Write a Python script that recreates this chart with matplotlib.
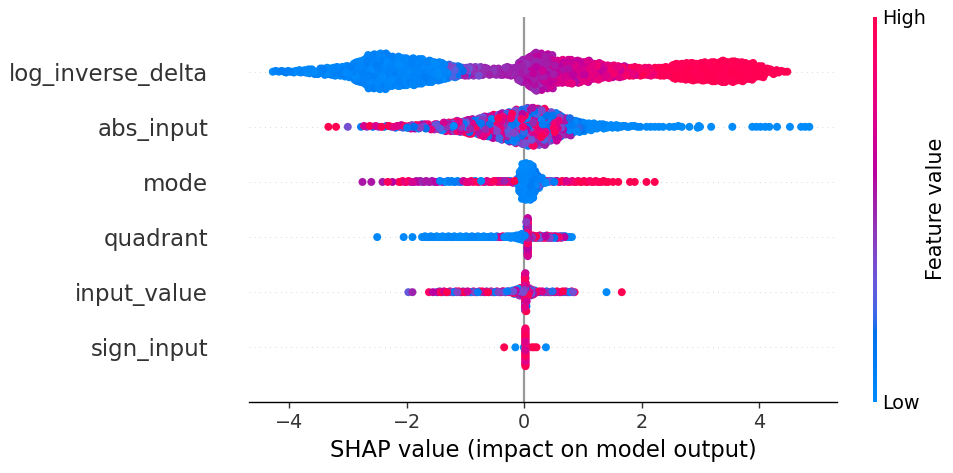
import numpy as np
import matplotlib
matplotlib.use('Agg')
import matplotlib.pyplot as plt
from matplotlib.colors import LinearSegmentedColormap
from matplotlib.cm import ScalarMappable

# rows from bottom to top
feature_names = ['sign_input', 'input_value', 'quadrant', 'mode', 'abs_input', 'log_inverse_delta']

# each feature: histogram of SHAP values (bin edges + counts), mean feature value
# per bin (0 = low, 1 = high) and its spread, plus isolated points

# log_inverse_delta
lid_edges = np.arange(-4.3, 4.51, 0.2)
lid_counts = [4, 6, 9, 15, 21, 27, 33, 63, 99, 105, 87, 81, 75, 63, 51, 33, 27, 27, 21, 21, 27, 69,
              111, 99, 69, 69, 63, 51, 39, 33, 27, 24, 24, 27, 45, 51, 54, 57, 63, 60, 51, 33, 15, 4]
lid_level = [0.04] * 15 + [0.2, 0.35, 0.45, 0.48, 0.5, 0.5, 0.52, 0.55, 0.6, 0.65, 0.68, 0.7, 0.72,
                           0.75, 0.78, 0.8, 0.85, 0.9, 0.95] + [0.98] * 10
lid_spread = [0.05] * 15 + [0.2, 0.2, 0.1, 0.05, 0.05, 0.05, 0.06, 0.08, 0.1, 0.12, 0.12, 0.12, 0.12,
                            0.12, 0.15, 0.2, 0.15, 0.1, 0.05] + [0.02] * 10
lid_out_x = []
lid_out_v = []

# abs_input
abs_edges = np.arange(-2.8, 2.01, 0.2)
abs_counts = [4, 4, 5, 8, 12, 15, 18, 27, 33, 42, 57, 69, 81, 99, 111, 105, 81, 51, 33, 21, 15, 9, 6, 4]
abs_level = [0.55] * 7 + [0.5] * 10 + [0.3, 0.12] + [0.02] * 5
abs_spread = [0.45] * 7 + [0.5] * 10 + [0.3, 0.12] + [0.02] * 5
abs_out_x = [-3.33, -3.2, -3.0, 2.08, 2.15, 2.22, 2.29, 2.36, 2.47, 2.55, 2.62, 2.68, 2.81, 2.95,
             2.97, 2.99, 3.18, 3.54, 3.88, 3.95, 4.02, 4.1, 4.17, 4.3, 4.52, 4.71, 4.78, 4.85]
abs_out_v = [1.0, 1.0, 0.35] + [0.0] * 25

# mode
mode_edges = np.r_[np.arange(-2.15, -0.149, 0.1), np.arange(-0.10, 0.401, 0.05), np.arange(0.5, 1.401, 0.1)]
mode_counts = [3] * 16 + [4] * 4 + [4, 22, 36, 38, 38, 34, 24, 14, 8, 4, 3] + [4, 4, 3, 3, 3, 3, 3, 3, 3, 3]
mode_level = [0.95, 0.9, 0.6, 0.55, 0.55, 0.55, 0.5, 0.3, 0.08, 0.05, 0.1, 0.8, 0.85, 0.5, 0.4, 0.85,
              0.9, 0.8, 0.75, 0.6] + [0.3, 0.05, 0.03, 0.03, 0.03, 0.05, 0.1, 0.15, 0.2, 0.3, 0.4] + \
             [0.4, 0.5, 0.7, 0.85, 0.9, 0.9, 0.95, 0.95, 0.95, 0.95]
mode_spread = [0.05, 0.1, 0.1, 0.05, 0.05, 0.05, 0.1, 0.25, 0.08, 0.05, 0.1, 0.15, 0.1, 0.45, 0.4, 0.15,
               0.1, 0.2, 0.25, 0.4] + [0.3, 0.05, 0.03, 0.03, 0.03, 0.05, 0.1, 0.15, 0.2, 0.3, 0.4] + \
              [0.4, 0.4, 0.3, 0.15, 0.1, 0.1, 0.05, 0.05, 0.05, 0.05]
mode_out_x = [-2.75, -2.6, -2.41, -2.32, -2.24, 1.43, 1.51, 1.6, 1.8, 1.88, 2.08, 2.22]
mode_out_v = [0.55, 0.55, 0.55, 0.95, 0.6, 1, 1, 1, 1, 1, 1, 1]

# quadrant
quad_edges = [-1.75, -1.65, -1.55, -1.45, -1.35, -1.25, -1.15, -1.05, -0.95, -0.85, -0.75, -0.65, -0.55,
              -0.45, -0.35, -0.25, -0.15, -0.05, 0.03, 0.058, 0.062, 0.15, 0.25, 0.35, 0.45, 0.55, 0.65,
              0.72, 0.83]
quad_counts = [4] * 13 + [4, 5, 7, 16, 22, 8, 41, 10, 10, 10, 10, 9, 8, 5, 3]
quad_level = [0.02] * 13 + [0.75, 0.03, 0.03, 0.03, 0.04, 0.3, 0.75, 0.6, 0.55, 0.55, 0.55, 0.5, 0.45, 0.3, 0.02]
quad_spread = [0.02] * 13 + [0.25, 0.03, 0.03, 0.03, 0.04, 0.3, 0.25, 0.4, 0.45, 0.45, 0.45, 0.45, 0.4, 0.3, 0.02]
quad_out_x = [-2.5, -2.05, -1.9]
quad_out_v = [0.02, 0.02, 0.02]

# input_value
inp_edges = [-1.5, -1.4, -1.3, -1.2, -1.1, -1.0, -0.9, -0.8, -0.7, -0.6, -0.5, -0.4, -0.3, -0.2,
             -0.1, -0.02, 0.012, 0.016, 0.1, 0.17, 0.27, 0.37, 0.47, 0.57, 0.67, 0.77, 0.87]
inp_counts = [4] * 11 + [5, 5] + [16, 22, 12, 38, 24, 15] + [4] * 7
inp_level = [0.55] * 13 + [0.5, 0.5, 0.4, 0.6, 0.55, 0.6] + [0.6] * 6 + [0.5]
inp_spread = [0.45] * 13 + [0.5, 0.5, 0.4, 0.4, 0.45, 0.4] + [0.4] * 6 + [0.45]
inp_out_x = [-1.97, -1.9, -1.62, -1.55, 1.4, 1.66]
inp_out_v = [0.3, 0.5, 0.9, 0.6, 0.0, 1.0]

# sign_input
sgn_edges = [0.0, 0.004, 0.02, 0.022, 0.04, 0.044]
sgn_counts = [3, 0, 41, 0, 2]
sgn_level = [0.02, 0, 0.85, 0, 0.95]
sgn_spread = [0.02, 0, 0.15, 0, 0.05]
sgn_out_x = [-0.34, -0.15, 0.13, 0.17, 0.21, 0.37]
sgn_out_v = [1, 0, 1, 1, 1, 0]

rows = [
    (sgn_edges, sgn_counts, sgn_level, sgn_spread, sgn_out_x, sgn_out_v),
    (inp_edges, inp_counts, inp_level, inp_spread, inp_out_x, inp_out_v),
    (quad_edges, quad_counts, quad_level, quad_spread, quad_out_x, quad_out_v),
    (mode_edges, mode_counts, mode_level, mode_spread, mode_out_x, mode_out_v),
    (abs_edges, abs_counts, abs_level, abs_spread, abs_out_x, abs_out_v),
    (lid_edges, lid_counts, lid_level, lid_spread, lid_out_x, lid_out_v),
]


def lch2rgb(l, c, h):
    a, b = c * np.cos(h), c * np.sin(h)
    fy = (l + 16) / 116
    f = np.array([fy + a / 500, fy, fy - b / 200])
    xyz = np.where(f > 0.2068966, f ** 3, (f - 16 / 116) / 7.787) * np.array([0.95047, 1.0, 1.08883])
    m = np.array([[3.24048134, -1.53715152, -0.49853633],
                  [-0.96925495, 1.87599, 0.04155593],
                  [0.05564664, -0.20404134, 1.05731107]])
    rgb = m @ xyz
    rgb = np.where(rgb > 0.0031308, 1.055 * np.clip(rgb, 0.0031308, None) ** (1 / 2.4) - 0.055, 12.92 * rgb)
    return np.clip(rgb, 0, 1)


# shap's red_blue colour map (LCH interpolation)
nsteps = 100
l_vals = list(np.linspace(54., 40., nsteps // 2)) + list(np.linspace(40., 54., nsteps // 2))
c_vals = np.linspace(70., 90., nsteps)
h_vals = np.linspace(4.6588, 0.35470565 + 2 * np.pi, nsteps)
red_blue = LinearSegmentedColormap.from_list(
    'red_blue', [lch2rgb(l, c, h) for l, c, h in zip(l_vals, c_vals, h_vals)])


def expand(edges, counts, level, spread, out_x, out_v):
    xs, vs = [], []
    for lo, hi, n, lv, sp in zip(edges[:-1], edges[1:], counts, level, spread):
        if n == 0:
            continue
        k = np.arange(n)
        xs.append(lo + (k + 0.5) * (hi - lo) / n)
        vals = np.linspace(lv - sp, lv + sp, n) if n > 1 else np.array([lv])
        vs.append(vals[np.argsort((k * 0.618034) % 1)])
    xs.append(np.asarray(out_x, float))
    vs.append(np.asarray(out_v, float))
    return np.concatenate(xs), np.clip(np.concatenate(vs), 0, 1)


def swarm(shaps, row_height=0.4, nbins=100):
    quant = np.round(nbins * (shaps - shaps.min()) / (shaps.max() - shaps.min() + 1e-8))
    key = (np.arange(len(shaps)) * 0.7548777) % 1
    inds = np.lexsort((key, quant))
    ys = np.zeros(len(shaps))
    layer = 0
    last_bin = -1
    for ind in inds:
        if quant[ind] != last_bin:
            layer = 0
        ys[ind] = np.ceil(layer / 2) * ((layer % 2) * 2 - 1)
        layer += 1
        last_bin = quant[ind]
    ys *= 0.9 * (row_height / np.max(ys + 1))
    return ys


fig = plt.figure(figsize=(9.54, 4.73), dpi=100)
ax = fig.add_axes([249 / 954, (473 - 402.4) / 473, 588 / 954, 385.8 / 473])

ax.axvline(x=0, color='#999999', lw=1.6, zorder=-1)
for pos, row in enumerate(rows):
    ax.axhline(y=pos, color='#cccccc', lw=0.625, dashes=(1, 5), zorder=-1)
    shaps, vals = expand(*row)
    ys = swarm(shaps)
    order = np.argsort((np.arange(len(shaps)) * 0.5698403) % 1)
    ax.scatter(shaps[order], pos + ys[order], c=vals[order], cmap=red_blue, vmin=0, vmax=1,
               s=33, linewidth=0, alpha=1, zorder=3)

ax.set_xlim(-4.68, 5.32)
ax.set_ylim(-1, len(feature_names))
ax.set_yticks(range(len(feature_names)))
ax.set_yticklabels(feature_names, fontsize=16.5)
ax.xaxis.set_ticks_position('bottom')
ax.yaxis.set_ticks_position('none')
ax.tick_params('y', length=0, pad=29.5)
ax.tick_params('x', labelsize=13.75, length=4.4, width=1.0)
ax.tick_params(color='#333333', labelcolor='#333333')
for side in ['right', 'top', 'left']:
    ax.spines[side].set_visible(False)
ax.spines['bottom'].set_linewidth(1.0)
ax.set_xlabel('SHAP value (impact on model output)', fontsize=16.25, labelpad=5)

cax = fig.add_axes([873.3 / 954, (473 - 401.7) / 473, 4 / 954, 385 / 473])
sm = ScalarMappable(cmap=red_blue)
sm.set_array([0, 1])
cb = fig.colorbar(sm, cax=cax, ticks=[0, 1])
cb.set_ticklabels(['Low', 'High'])
cb.set_label('Feature value', size=15, labelpad=0)
cb.ax.tick_params(labelsize=13.75, length=0)
cb.outline.set_visible(False)

fig.savefig('out.png', dpi=100)
